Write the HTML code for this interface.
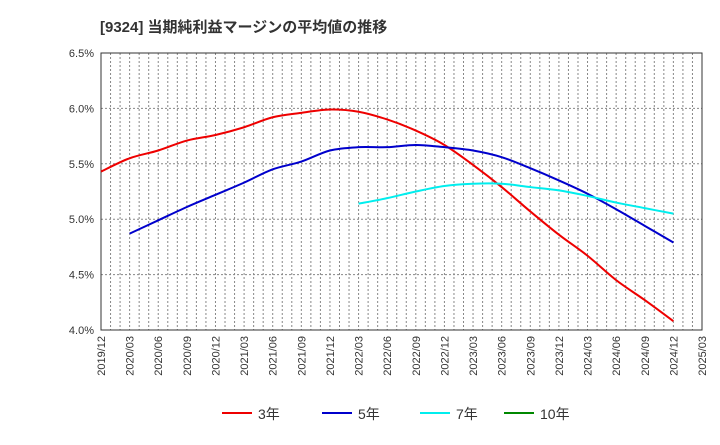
<!DOCTYPE html>
<html><head><meta charset="utf-8"><style>
body{margin:0;background:#fff;font-family:"Liberation Sans","Noto Sans CJK JP",sans-serif;}
</style></head><body>
<svg id="c" width="720" height="440" xmlns="http://www.w3.org/2000/svg">
<text x="100" y="32" font-size="15" font-weight="bold" fill="#333" font-family="Liberation Sans, Noto Sans CJK JP, sans-serif">[9324]  当期純利益マージンの平均値の推移</text>
</svg>
<script>
const xLabels=["2019/12","2020/03","2020/06","2020/09","2020/12","2021/03","2021/06","2021/09","2021/12","2022/03","2022/06","2022/09","2022/12","2023/03","2023/06","2023/09","2023/12","2024/03","2024/06","2024/09","2024/12","2025/03"];
const yTicks=[4.0,4.5,5.0,5.5,6.0,6.5];
const s3=[5.43,5.55,5.62,5.71,5.76,5.83,5.92,5.96,5.99,5.97,5.90,5.80,5.67,5.49,5.29,5.07,4.86,4.67,4.45,4.27,4.08];
const s3Start=0;
const s5=[4.87,4.99,5.11,5.22,5.33,5.45,5.52,5.62,5.65,5.65,5.67,5.65,5.62,5.56,5.46,5.35,5.23,5.09,4.94,4.79];
const s5Start=1;
const s7=[5.14,5.19,5.25,5.30,5.32,5.32,5.29,5.26,5.21,5.15,5.10,5.05];
const s7Start=9;
const s10=[];
const NS="http://www.w3.org/2000/svg",svg=document.getElementById('c');
const L=101,R=702,T=53,B=330;
const X=i=>L+(R-L)*i/(xLabels.length-1);
const Y=v=>B-(v-4.0)/(6.5-4.0)*(B-T);
function mk(t,a){const e=document.createElementNS(NS,t);for(const k in a)e.setAttribute(k,a[k]);svg.appendChild(e);return e;}
// monthly vertical grid
for(let m=1;m<63;m++){const x=L+(R-L)*m/63;const g=mk('line',{x1:x,x2:x,y1:T,y2:B,stroke:'#888','stroke-width':1,'stroke-dasharray':'2,2'});

}
yTicks.forEach(v=>{const y=Y(v);
const g=mk('line',{x1:L,x2:R,y1:y,y2:y,stroke:'#888','stroke-width':1,'stroke-dasharray':'2,2'});


const t=mk('text',{x:L-7,y:y+4,'font-size':11,'text-anchor':'end',fill:'#333'});t.textContent=v.toFixed(1)+'%';

});
const fr=mk('rect',{x:L,y:T,width:R-L,height:B-T,fill:'none',stroke:'#333','stroke-width':1});


xLabels.forEach((l,i)=>{const x=X(i);const t=mk('text',{x:x+4,y:B+6,'font-size':11,'text-anchor':'end',fill:'#333',transform:`rotate(-90 ${x+4} ${B+6})`});t.textContent=l;

});
function path(arr,st){const p=arr.map((v,i)=>[X(i+st),Y(v)]);if(p.length<2)return '';
let d=`M${p[0][0]},${p[0][1]}`;for(let i=0;i<p.length-1;i++){const p0=p[i-1]||p[i],p1=p[i],p2=p[i+1],p3=p[i+2]||p2;
d+=` C${p1[0]+(p2[0]-p0[0])/6},${p1[1]+(p2[1]-p0[1])/6} ${p2[0]-(p3[0]-p1[0])/6},${p2[1]-(p3[1]-p1[1])/6} ${p2[0]},${p2[1]}`;}return d;}
[[s3,s3Start,'#e00','line-3yr'],[s5,s5Start,'#00c','line-5yr'],[s7,s7Start,'#0ee','line-7yr'],[s10,0,'#080','line-10yr']].forEach(([a,s,c,n])=>{const d=path(a,s);if(!d)return;
const e=mk('path',{d:d,fill:'none',stroke:c,'stroke-width':2});

});
[['3年','#e00',222],['5年','#00c',322],['7年','#0ee',420],['10年','#080',504]].forEach(([t,c,x])=>{
const g=mk('g',{});

const l=document.createElementNS(NS,'line');[['x1',x],['x2',x+30],['y1',413],['y2',413],['stroke',c],['stroke-width',2]].forEach(([k,v])=>l.setAttribute(k,v));g.appendChild(l);
const tx=document.createElementNS(NS,'text');tx.setAttribute('x',x+36);tx.setAttribute('y',419);tx.setAttribute('font-size',14);tx.setAttribute('fill','#333');tx.textContent=t;g.appendChild(tx);});
</script>
</body></html>
